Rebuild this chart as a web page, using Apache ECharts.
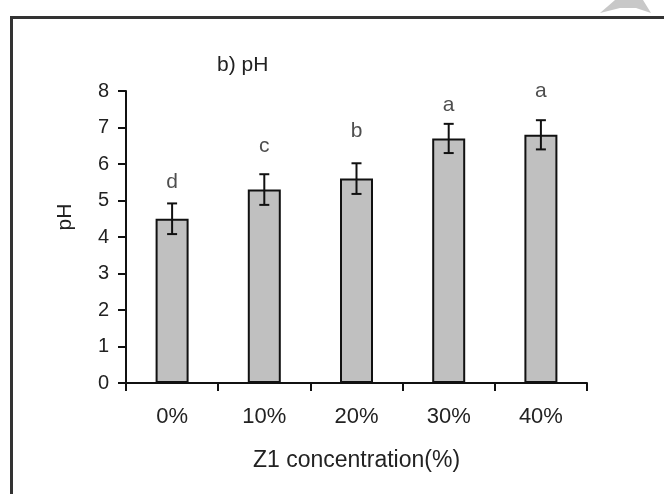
<!DOCTYPE html>
<html>
<head>
<meta charset="utf-8">
<script src="https://cdn.jsdelivr.net/npm/echarts@6/dist/echarts.min.js"></script>
<style>html,body{margin:0;padding:0;background:#fff;}#c{width:664px;height:494px;}</style>
</head>
<body>
<div id="c"></div>
<script>
var categories = ['0%', '10%', '20%', '30%', '40%'];
var phMean = [4.5, 5.3, 5.6, 6.7, 6.8];
var phErr = [0.42, 0.42, 0.42, 0.4, 0.4];
var letters = ['d', 'c', 'b', 'a', 'a'];
var letterY = [5.5, 6.5, 6.9, 7.6, 8.0];
var yTicks = [0, 1, 2, 3, 4, 5, 6, 7, 8];

var FONT = 'Liberation Sans, Arial, sans-serif';
var TXT = '#222';

var chart = echarts.init(document.getElementById('c'), null, {renderer: 'canvas'});
chart.setOption({
  animation: false,
  backgroundColor: '#fff',
  title: {
    text: 'b) pH', left: 217, top: 55, padding: 0,
    textStyle: {fontFamily: FONT, fontSize: 21, fontWeight: 'normal', color: TXT}
  },
  grid: {left: 126, right: 77, top: 91, bottom: 111},
  xAxis: {
    type: 'category', data: categories,
    name: 'Z1 concentration(%)', nameLocation: 'middle', nameGap: 66,
    nameTextStyle: {fontFamily: FONT, fontSize: 23, color: TXT},
    axisLine: {lineStyle: {color: '#111', width: 2}},
    axisTick: {show: true, inside: false, length: 8, lineStyle: {color: '#111', width: 2}},
    axisLabel: {fontFamily: FONT, fontSize: 22, color: TXT, margin: 23}
  },
  yAxis: {
    type: 'value', min: 0, max: 8, interval: 1,
    splitLine: {show: false},
    axisLine: {show: true, lineStyle: {color: '#111', width: 2}},
    axisTick: {show: true, inside: false, length: 8, lineStyle: {color: '#111', width: 2}},
    axisLabel: {fontFamily: FONT, fontSize: 20, color: TXT, margin: 17,
      formatter: function (v) { return yTicks.indexOf(v) >= 0 ? String(v) : ''; }}
  },
  graphic: [
    {type: 'rect', left: 9, top: 15, shape: {x: 0, y: 0, width: 720, height: 540},
     style: {fill: 'none', stroke: '#333', lineWidth: 3}, z: 100},
    {type: 'polygon', shape: {points: [[600, 13], [615, 0], [643, 0], [651, 13], [636, 8], [620, 8]]},
     style: {fill: '#c8c8c8'}, z: 90},
    {type: 'text', x: 65, y: 217, rotation: Math.PI / 2,
     style: {text: 'pH', fontFamily: FONT, fontSize: 21, fill: TXT, align: 'center', verticalAlign: 'middle'}}
  ],
  series: [
    {
      type: 'bar', data: phMean, barWidth: 33,
      itemStyle: {color: '#c0c0c0', borderColor: '#111', borderWidth: 2}
    },
    {
      type: 'custom',
      data: phMean.map(function (m, i) { return [i, m - phErr[i], m + phErr[i]]; }),
      renderItem: function (params, api) {
        var lo = api.coord([api.value(0), api.value(1)]);
        var hi = api.coord([api.value(0), api.value(2)]);
        var hw = 5;
        var st = {stroke: '#111', lineWidth: 2};
        return {type: 'group', children: [
          {type: 'line', shape: {x1: hi[0], y1: hi[1], x2: lo[0], y2: lo[1]}, style: st},
          {type: 'line', shape: {x1: hi[0] - hw, y1: hi[1], x2: hi[0] + hw, y2: hi[1]}, style: st},
          {type: 'line', shape: {x1: lo[0] - hw, y1: lo[1], x2: lo[0] + hw, y2: lo[1]}, style: st}
        ]};
      },
      z: 5
    },
    {
      type: 'scatter', data: letterY, symbolSize: 1,
      itemStyle: {color: 'rgba(0,0,0,0)'},
      label: {show: true, position: 'inside', fontFamily: FONT, fontSize: 21, color: TXT,
        formatter: function (p) { return letters[p.dataIndex]; }}
    }
  ]
});
</script>
</body>
</html>
